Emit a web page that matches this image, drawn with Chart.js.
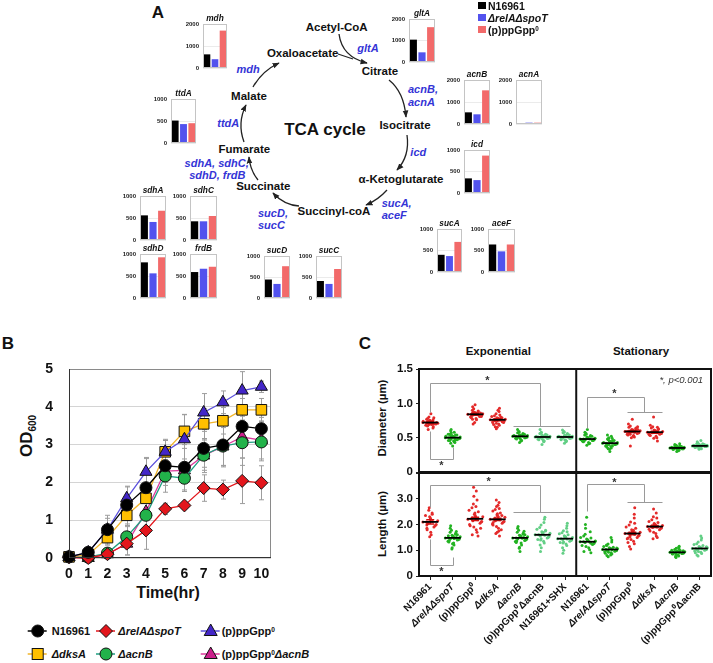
<!DOCTYPE html>
<html><head><meta charset="utf-8">
<script src="https://cdn.jsdelivr.net/npm/chart.js@4.4.1/dist/chart.umd.min.js"></script>
<style>
html,body{margin:0;padding:0;background:#fff}
#root{position:relative;width:713px;height:663px;overflow:hidden;font-family:Arial,"Liberation Sans",Helvetica,sans-serif}
.t{position:absolute;white-space:nowrap;transform:translate(-50%,-50%);font-weight:bold;color:#111;line-height:1}
.l{position:absolute;white-space:nowrap;transform:translate(0,-50%);font-weight:bold;color:#111;line-height:1}
.g{color:#3434d6;font-style:italic;font-size:11px}
.m{font-size:11.5px}
.mt{font-size:8.3px;font-style:italic}
sup{font-size:0.6em;vertical-align:0.45em;line-height:0}
canvas{position:absolute}
svg{position:absolute;left:0;top:0}
</style></head><body><div id="root">
<svg width="713" height="663">
<defs><marker id="ah" viewBox="0 0 10 10" refX="9" refY="5" markerWidth="5.5" markerHeight="5.5" orient="auto"><path d="M0,1 L10,5 L0,9 z" fill="#222"/></marker></defs>
<g fill="none" stroke="#222" stroke-width="1.3" marker-end="url(#ah)">
<path d="M339,34 Q342,57 367,63"/>
<path d="M389,80 Q404,92 406,117"/>
<path d="M407,135 Q410,156 397,170"/>
<path d="M387,190 Q378,200 366,205"/>
<path d="M299,206 Q284,205 273,193"/>
<path d="M258,180 Q250,170 249,157"/>
<path d="M244,142 Q237,123 246,105"/>
<path d="M253,87 Q262,71 279,63"/>
</g>
<path d="M338,54 L353,59" fill="none" stroke="#222" stroke-width="1.3"/>
</svg>

<div class="t" style="left:158px;top:12px;font-size:17px">A</div>
<div class="t m" style="left:336.7px;top:27.7px">Acetyl-CoA</div>
<div class="t g" style="left:368px;top:47.7px">gltA</div>
<div class="t m" style="left:302.7px;top:54.3px">Oxaloacetate</div>
<div class="t m" style="left:380px;top:71.7px">Citrate</div>
<div class="t g" style="left:248px;top:69.3px">mdh</div>
<div class="t m" style="left:249px;top:96.7px">Malate</div>
<div class="t" style="left:325px;top:129.3px;font-size:17px">TCA cycle</div>
<div class="t m" style="left:405px;top:125.7px">Isocitrate</div>
<div class="t g" style="left:228.3px;top:123.3px">ttdA</div>
<div class="l g" style="left:408px;top:89.3px">acnB,</div>
<div class="l g" style="left:408px;top:101.7px">acnA</div>
<div class="t g" style="left:418.3px;top:152.3px">icd</div>
<div class="t m" style="left:244.3px;top:150px">Fumarate</div>
<div class="t g" style="left:216.7px;top:163.3px">sdhA, sdhC,</div>
<div class="t g" style="left:217.3px;top:174.5px">sdhD, frdB</div>
<div class="t m" style="left:401px;top:180px">α-Ketoglutarate</div>
<div class="t m" style="left:263.3px;top:187.3px">Succinate</div>
<div class="l g" style="left:381.7px;top:203.3px">sucA,</div>
<div class="l g" style="left:381.7px;top:214.5px">aceF</div>
<div class="t m" style="left:334px;top:211.7px">Succinyl-coA</div>
<div class="l g" style="left:258px;top:213.3px">sucD,</div>
<div class="l g" style="left:258px;top:225px">sucC</div>

<div class="t" style="left:8px;top:343px;font-size:17px">B</div>
<div class="t" style="left:28px;top:436px;font-size:17px;transform:translate(-50%,-50%) rotate(-90deg)">OD<sub style="font-size:10px">600</sub></div>
<div class="t" style="left:168px;top:593px;font-size:16px">Time(hr)</div>

<div class="t" style="left:365px;top:343px;font-size:17px">C</div>
<div class="t" style="left:498.3px;top:351.7px;font-size:11.5px">Exponential</div>
<div class="t" style="left:641px;top:351.7px;font-size:11.5px">Stationary</div>
<div class="t" style="left:383px;top:417.5px;font-size:11.5px;transform:translate(-50%,-50%) rotate(-90deg)">Diameter (µm)</div>
<div class="t" style="left:383px;top:524px;font-size:11.5px;transform:translate(-50%,-50%) rotate(-90deg)">Length (µm)</div>
</div>
<script>
// ---------------- Panel A data ----------------
const strainsA = ['N16961', 'ΔrelAΔspoT', '(p)ppGpp⁰'];
const genes = ['mdh','gltA','ttdA','acnB','acnA','icd','sdhA','sdhC','sdhD','frdB','sucD','sucC','sucA','aceF'];
const exprN16961 = [620,1040,510,530,40,340,560,425,810,590,440,405,400,640];
const exprRelA   = [400,450,430,440,60,300,410,425,560,665,335,335,370,480];
const exprPpGpp0 = [1700,1620,450,1530,60,870,665,545,925,710,757,690,700,640];
const exprAxisMax = [2000,2000,1000,2000,2000,1000,1000,1000,1000,1000,1000,1000,1000,1000];

// ---------------- Panel B data ----------------
const hours = [0,1,2,3,4,5,6,7,8,9,10];
const odN16961    = [0.03,0.15,0.75,1.40,1.86,2.44,2.40,2.90,2.99,3.48,3.42];
const odRelA      = [0.02,0.00,0.10,0.38,0.73,1.30,1.39,1.85,1.81,2.04,1.99];
const odPpGpp0    = [0.03,0.15,0.75,1.58,2.28,2.81,3.14,3.85,4.12,4.43,4.53];
const odDksA      = [0.03,0.08,0.54,1.13,1.58,2.81,3.35,3.55,3.63,3.92,3.92];
const odAcnB      = [0.03,0.02,0.13,0.56,1.13,2.17,2.11,2.72,2.96,3.05,3.07];
const odPpGppAcnB = [0.02,0.00,0.10,0.38,1.22,2.30,2.32,2.71,2.95,3.20,3.12];
const errN16961    = [0.02,0.10,0.38,0.50,0.80,0.70,0.60,0.50,0.55,0.50,0.30];
const errRelA      = [0.02,0.05,0.10,0.30,0.50,0.15,0.10,0.35,0.25,0.60,0.45];
const errPpGpp0    = [0.02,0.10,0.30,0.30,0.35,0.30,0.65,0.50,0.30,0.50,0.15];
const errDksA      = [0.02,0.05,0.20,0.30,0.30,0.30,0.45,0.40,0.35,0.30,0.30];
const errAcnB      = [0.02,0.03,0.10,0.30,0.40,0.25,0.35,0.40,0.55,0.60,0.50];
const errPpGppAcnB = [0.02,0.03,0.10,0.30,0.45,0.30,0.30,0.45,0.50,0.55,0.50];
const labelsB = ['N16961','ΔrelAΔspoT','(p)ppGpp⁰','ΔdksA','ΔacnB','(p)ppGpp⁰ΔacnB'];

// ---------------- Panel C data ----------------
const catsC = ['N16961','ΔrelAΔspoT','(p)ppGpp⁰','ΔdksA','ΔacnB','(p)ppGpp⁰ΔacnB','N16961+SHX',
               'N16961','ΔrelAΔspoT','(p)ppGpp⁰','ΔdksA','ΔacnB','(p)ppGpp⁰ΔacnB'];
const catColor = ['r','g','r','r','g','lg','lg','g','g','r','r','g','lg'];
const diamMean = [0.72,0.50,0.84,0.76,0.52,0.51,0.51,0.48,0.42,0.59,0.58,0.35,0.38];
const diamSem  = [0.015,0.01,0.015,0.015,0.01,0.01,0.01,0.01,0.01,0.015,0.015,0.01,0.01];
const lenMean  = [2.10,1.48,2.22,2.20,1.48,1.60,1.45,1.33,1.03,1.65,1.92,0.92,1.07];
const lenSem   = [0.08,0.03,0.06,0.04,0.03,0.03,0.03,0.03,0.02,0.05,0.04,0.02,0.02];

const diamExpN16961 = [0.72,0.70,0.74,0.68,0.76,0.73,0.71,0.69,0.78,0.66,0.75,0.72,0.70,0.80,0.64,0.73,0.77,0.71,0.69,0.74,0.85,0.67,0.72,0.75,0.62,0.70,0.73,0.79];
const diamExpRelA = [0.50,0.48,0.52,0.46,0.54,0.49,0.51,0.45,0.55,0.47,0.53,0.50,0.44,0.57,0.49,0.51,0.42,0.58,0.48,0.52,0.50,0.46,0.54,0.38,0.60,0.47,0.53,0.49,0.51,0.62,0.43,0.50,0.55,0.48];
const diamExpPpGpp0 = [0.84,0.82,0.86,0.80,0.88,0.83,0.85,0.78,0.90,0.81,0.87,0.84,0.76,0.92,0.83,0.85,0.79,0.89,0.72,0.95,0.84,0.82,0.86,0.98,0.70,0.83,0.87,0.81,0.85,0.77];
const diamExpDksA = [0.76,0.74,0.78,0.72,0.80,0.75,0.77,0.70,0.82,0.73,0.79,0.76,0.68,0.85,0.74,0.78,0.66,0.88,0.71,0.81,0.76,0.63,0.93,0.75,0.69,0.83,0.77,0.72,0.90,0.74,0.79,0.65];
const diamExpAcnB = [0.52,0.50,0.54,0.49,0.55,0.51,0.53,0.47,0.57,0.50,0.54,0.52,0.45,0.59,0.51,0.53,0.48,0.56,0.43,0.62,0.52,0.50,0.55,0.49,0.53,0.46,0.58,0.51];
const diamExpPpGppAcnB = [0.51,0.49,0.53,0.48,0.54,0.50,0.52,0.46,0.56,0.49,0.53,0.51,0.44,0.58,0.50,0.52,0.47,0.55,0.40,0.62,0.51,0.49,0.54,0.48,0.52,0.45,0.57,0.50];
const diamExpShx = [0.51,0.49,0.53,0.47,0.55,0.50,0.52,0.46,0.57,0.49,0.53,0.51,0.44,0.59,0.50,0.52,0.48,0.56,0.42,0.61,0.51,0.49,0.54,0.47,0.52,0.45,0.58,0.50];
const diamStaN16961 = [0.48,0.46,0.50,0.45,0.52,0.47,0.49,0.43,0.54,0.46,0.51,0.48,0.41,0.56,0.47,0.50,0.44,0.53,0.39,0.58,0.48,0.45,0.52,0.62,0.47,0.42,0.55,0.49];
const diamStaRelA = [0.42,0.40,0.44,0.38,0.46,0.41,0.43,0.37,0.48,0.40,0.45,0.42,0.35,0.50,0.41,0.44,0.36,0.52,0.33,0.54,0.42,0.39,0.46,0.30,0.43,0.38,0.47,0.41,0.44,0.34,0.49,0.40];
const diamStaPpGpp0 = [0.59,0.57,0.61,0.55,0.63,0.58,0.60,0.53,0.65,0.56,0.62,0.59,0.51,0.67,0.57,0.61,0.54,0.64,0.50,0.70,0.58,0.56,0.62,0.77,0.38,0.60,0.55,0.66,0.52,0.59];
const diamStaDksA = [0.58,0.56,0.60,0.54,0.62,0.57,0.59,0.52,0.64,0.55,0.61,0.58,0.50,0.66,0.56,0.60,0.53,0.63,0.49,0.68,0.57,0.80,0.45,0.59,0.55,0.65,0.58];
const diamStaAcnB = [0.35,0.34,0.36,0.33,0.37,0.35,0.36,0.32,0.38,0.34,0.37,0.35,0.31,0.39,0.34,0.36,0.33,0.38,0.30,0.40,0.35,0.34,0.37,0.33,0.36,0.32,0.35,0.41];
const diamStaPpGppAcnB = [0.38,0.37,0.39,0.36,0.40,0.38,0.39,0.35,0.41,0.37,0.40,0.38,0.34,0.42,0.37,0.39,0.36,0.41,0.33,0.44,0.38,0.37,0.40,0.35,0.39,0.46,0.36,0.38];

const lenExpN16961 = [2.10,1.95,2.25,1.80,2.40,2.05,2.15,1.70,2.55,1.90,2.30,2.10,1.60,2.65,2.00,2.20,1.85,2.45,1.52,2.35,2.12,1.98];
const lenExpRelA = [1.48,1.42,1.55,1.35,1.62,1.45,1.52,1.28,1.70,1.40,1.58,1.48,1.20,1.78,1.44,1.54,1.32,1.66,1.10,1.85,1.47,1.38,1.60,1.25,1.95,1.50,1.05,1.73,1.46,1.56];
const lenExpPpGpp0 = [2.22,2.10,2.35,1.95,2.50,2.15,2.30,1.80,2.65,2.05,2.40,2.20,1.70,2.80,2.12,2.28,1.60,2.95,1.90,2.55,2.18,3.10,1.55,2.45,2.00,3.30,2.25,1.85,2.70,3.45];
const lenExpDksA = [2.20,2.10,2.32,1.98,2.45,2.15,2.28,1.85,2.58,2.05,2.38,2.20,1.75,2.70,2.12,2.30,1.65,2.85,1.92,2.52,2.18,2.95,1.55,2.42,2.02,2.62,2.25,1.80,2.75,2.08,2.35,1.70];
const lenExpAcnB = [1.48,1.40,1.56,1.34,1.62,1.45,1.52,1.28,1.70,1.38,1.58,1.48,1.20,1.78,1.43,1.54,1.30,1.66,1.12,1.85,1.47,1.36,1.60,0.95,1.92,1.50,1.08,1.74];
const lenExpPpGppAcnB = [1.60,1.50,1.70,1.42,1.78,1.55,1.66,1.35,1.88,1.48,1.72,1.60,1.28,1.98,1.53,1.68,1.20,2.08,1.45,1.82,1.58,1.10,2.20,1.62,0.95,1.75,1.40,2.28];
const lenExpShx = [1.45,1.38,1.52,1.30,1.60,1.42,1.50,1.24,1.68,1.35,1.56,1.45,1.18,1.76,1.40,1.52,1.10,1.85,1.32,1.64,1.44,1.00,1.95,1.48,0.88,1.72,1.28,2.05];
const lenStaN16961 = [1.33,1.25,1.40,1.18,1.48,1.30,1.36,1.10,1.55,1.22,1.44,1.33,1.02,1.62,1.28,1.38,0.95,1.72,1.15,1.50,1.32,1.85,0.90,1.42,2.00,1.27,2.28,1.35];
const lenStaRelA = [1.03,0.98,1.08,0.94,1.12,1.00,1.06,0.90,1.18,0.96,1.10,1.03,0.85,1.24,0.99,1.07,0.80,1.32,0.92,1.15,1.02,0.75,1.40,1.05,0.88,1.50,0.97,1.09,0.82,1.20];
const lenStaPpGpp0 = [1.65,1.55,1.75,1.45,1.85,1.60,1.70,1.35,1.98,1.50,1.80,1.65,1.25,2.10,1.58,1.72,1.15,2.25,1.42,1.90,1.62,1.05,2.40,1.68,1.30,2.05,1.52,2.65,1.78,1.48];
const lenStaDksA = [1.92,1.85,2.00,1.75,2.08,1.88,1.96,1.65,2.18,1.80,2.04,1.92,1.55,2.30,1.86,1.98,1.45,2.45,1.70,2.12,1.90,2.60,1.50,2.02,1.82,2.25,1.95];
const lenStaAcnB = [0.92,0.88,0.96,0.85,0.99,0.90,0.94,0.82,1.03,0.87,0.97,0.92,0.78,1.08,0.89,0.95,0.75,1.12,0.84,1.00,0.91,0.72,1.16,0.93,0.86,1.05,0.80,0.98];
const lenStaPpGppAcnB = [1.07,1.02,1.12,0.97,1.18,1.04,1.10,0.92,1.25,1.00,1.15,1.07,0.87,1.32,1.03,1.12,0.82,1.40,0.95,1.22,1.06,0.78,1.48,1.08,0.90,1.55,1.00,1.14];

const diamGroups = [diamExpN16961,diamExpRelA,diamExpPpGpp0,diamExpDksA,diamExpAcnB,diamExpPpGppAcnB,diamExpShx,
                    diamStaN16961,diamStaRelA,diamStaPpGpp0,diamStaDksA,diamStaAcnB,diamStaPpGppAcnB];
const lenGroups = [lenExpN16961,lenExpRelA,lenExpPpGpp0,lenExpDksA,lenExpAcnB,lenExpPpGppAcnB,lenExpShx,
                   lenStaN16961,lenStaRelA,lenStaPpGpp0,lenStaDksA,lenStaAcnB,lenStaPpGppAcnB];

// significance brackets (category index, value)
const diamBrackets = [[[0,0.87],[0,1.3],[4.9,1.3],[4.9,0.67]],[[3.67,0.67],[6.22,0.67]],
                      [[0,0.6],[0,0.195],[1,0.195],[1,0.37]],
                      [[7,0.64],[7,1.087],[9.5,1.087],[9.5,0.875]],[[8.75,0.875],[10.33,0.875]]];
const diamStars = [[2.55,1.36],[0.5,0.12],[8.2,1.16]];
const lenBrackets = [[[0,2.67],[0,3.54],[4.9,3.54],[4.9,2.5]],[[3.67,2.5],[6.22,2.5]],
                     [[0,1.45],[0,0.42],[1,0.42],[1,0.72]],
                     [[7,2.54],[7,3.59],[9.5,3.59],[9.5,2.86]],[[8.75,2.86],[10.33,2.86]]];
const lenStars = [[2.6,3.74],[0.5,0.24],[8.2,3.68]];

// ---------------- rendering ----------------
const FONT = 'Arial, "Liberation Sans", Helvetica, sans-serif';
Chart.defaults.font.family = FONT;
Chart.defaults.color = '#111';
Chart.defaults.animation = false;
Chart.defaults.responsive = false;
Chart.defaults.maintainAspectRatio = false;
Chart.defaults.events = [];
Chart.defaults.plugins.legend.display = false;
Chart.defaults.plugins.tooltip.enabled = false;

const root = document.getElementById('root');
function mkCanvas(l,t,w,h){const c=document.createElement('canvas');c.width=w;c.height=h;
  c.style.left=l+'px';c.style.top=t+'px';c.style.width=w+'px';c.style.height=h+'px';root.appendChild(c);return c;}
function addDiv(cls,html,x,y,style){const d=document.createElement('div');d.className=cls;d.innerHTML=html;
  d.style.left=x+'px';d.style.top=y+'px';if(style)d.style.cssText+=style;root.appendChild(d);return d;}
function fmt(s){return s.replace(/⁰/g,'<sup>0</sup>').replace(/(Δ[A-Za-z]+)/g,'<i>$1</i>');}
function boxPlug(col,lw){return {id:'boxp',afterDraw(c){const a=c.chartArea,x=c.ctx;x.save();x.strokeStyle=col;x.lineWidth=lw;
  x.strokeRect(Math.round(a.left)+0.5,Math.round(a.top)+0.5,Math.round(a.width)-1,Math.round(a.height)-1);x.restore();}};}
// shift a chart's canvas so that its plot area starts exactly at (L,T)
function pin(chart,L,T){const a=chart.chartArea;chart.canvas.style.left=(L-a.left)+'px';chart.canvas.style.top=(T-a.top)+'px';}

// Panel A mini bar charts
const miniBox = {mdh:[203,227,24,68],gltA:[409,435,19,62],ttdA:[171,196,99,143],acnB:[464,490,80,124],acnA:[516,542,80,124],
  icd:[464,490,150,193],sdhA:[140,166,196,240],sdhC:[190,217,196,240],sdhD:[140,166,254,298],frdB:[190,217,254,298],
  sucD:[264,290,256,298],sucC:[316,342,256,298],sucA:[437,462,229,272],aceF:[488,515,229,272]};
const barColors = ['#000000','#5252ee','#f26a6a'];
genes.forEach((g,i)=>{
  const [x0,x1,y0,y1]=miniBox[g];
  const padL=30,padT=6,padB=6,padR=2;
  const cv=mkCanvas(x0-padL,y0-padT,x1-x0+padL+padR,y1-y0+padT+padB);
  const ch=new Chart(cv,{type:'bar',
    data:{labels:strainsA,datasets:[{data:[exprN16961[i],exprRelA[i],exprPpGpp0[i]],backgroundColor:barColors,categoryPercentage:0.94,barPercentage:0.88,minBarLength:1}]},
    options:{layout:{padding:{left:0,top:padT,right:padR,bottom:padB}},
      scales:{x:{display:false},
        y:{min:0,max:exprAxisMax[i],ticks:{stepSize:exprAxisMax[i]/2,font:{size:6,weight:'bold'},color:'#222',padding:0,callback:v=>String(v)},
           grid:{color:'#ebebeb',drawTicks:true,tickLength:4,tickColor:'rgba(0,0,0,0)'},border:{display:false},afterFit(s){s.width=padL;}}}},
    plugins:[boxPlug('#c4c4c4',1)]});
  pin(ch,x0,y0);
  addDiv('t mt',g,(x0+x1)/2,y0-6);
});
// Panel A legend
strainsA.forEach((s,i)=>{
  const y=5.5+i*12;
  const sq=document.createElement('div');sq.style.cssText=`position:absolute;left:478px;top:${y-3.8}px;width:7.5px;height:7.5px;background:${barColors[i]}`;
  root.appendChild(sq);
  addDiv('l',fmt(s),488,y,'font-size:10.5px');
});

// Panel B
const seriesB = [
  {od:odN16961,err:errN16961,line:'#000000',fill:'#000000',shape:'circle',r:6},
  {od:odRelA,err:errRelA,line:'#e3161c',fill:'#e3161c',shape:'rectRot',r:6.5},
  {od:odPpGpp0,err:errPpGpp0,line:'#5a4fdc',fill:'#4326c8',shape:'triangle',r:7},
  {od:odDksA,err:errDksA,line:'#f2b52a',fill:'#ffc000',shape:'rect',r:7.5},
  {od:odAcnB,err:errAcnB,line:'#1f9f80',fill:'#22b24a',shape:'circle',r:6},
  {od:odPpGppAcnB,err:errPpGppAcnB,line:'#dc3a9c',fill:'#cc1f8c',shape:'triangle',r:7}
];
const errPlug = {id:'errbars',beforeDatasetsDraw(c){const X=c.scales.x,Y=c.scales.y,ctx=c.ctx;ctx.save();ctx.strokeStyle='#9d9d9d';ctx.lineWidth=1;
  c.data.datasets.forEach(ds=>{ds.data.forEach((p,i)=>{const e=ds.err[i];if(!e)return;const px=Math.round(X.getPixelForValue(p.x))+0.5;
    const t=Y.getPixelForValue(p.y+e),b=Y.getPixelForValue(Math.max(0,p.y-e));ctx.beginPath();ctx.moveTo(px,t);ctx.lineTo(px,b);
    ctx.moveTo(px-2.5,t);ctx.lineTo(px+2.5,t);ctx.moveTo(px-2.5,b);ctx.lineTo(px+2.5,b);ctx.stroke();});});ctx.restore();},
  afterDraw(c){const a=c.chartArea,ctx=c.ctx;ctx.save();ctx.strokeStyle='#8a8a8a';ctx.lineWidth=1;
    ctx.strokeRect(Math.round(a.left)+0.5,Math.round(a.top)+0.5,Math.round(a.width)-1,Math.round(a.height)-1);
    ctx.strokeStyle='#333';ctx.beginPath();ctx.moveTo(Math.round(a.left)+0.5,a.top);ctx.lineTo(Math.round(a.left)+0.5,Math.round(a.bottom)-0.5);
    ctx.lineTo(a.right,Math.round(a.bottom)-0.5);ctx.stroke();ctx.restore();}};
const cvB = mkCanvas(0,360,285,230);
const chB = new Chart(cvB,{type:'line',
  data:{datasets:seriesB.map((s,k)=>({label:labelsB[k],data:s.od.map((v,i)=>({x:hours[i],y:v})),err:s.err,
    borderColor:s.line,backgroundColor:s.fill,pointBackgroundColor:s.fill,pointBorderColor:'#111',pointBorderWidth:1,
    pointStyle:s.shape,pointRadius:s.r,borderWidth:1.3,tension:0,clip:false}))},
  options:{layout:{padding:{top:9,right:14,left:0,bottom:0},autoPadding:false},
    scales:{x:{type:'linear',min:0,max:10.5,afterBuildTicks(s){s.ticks=hours.map(h=>({value:h}));},
        ticks:{font:{size:14,weight:'bold'},padding:8,autoSkip:false,maxRotation:0},grid:{display:false,drawTicks:false},border:{display:false},afterFit(s){s.height=32;}},
      y:{min:0,max:5,ticks:{stepSize:1,font:{size:14,weight:'bold'},padding:0},
        grid:{color:'#d4d4d4',drawTicks:true,tickLength:16,tickColor:'rgba(0,0,0,0)'},border:{display:false},afterFit(s){s.width=69;}}}},
  plugins:[errPlug]});
pin(chB,69,369);
// Panel B legend
(function(){
  const ns='http://www.w3.org/2000/svg';const sv=document.createElementNS(ns,'svg');
  sv.setAttribute('width','300');sv.setAttribute('height','663');sv.style.cssText='position:absolute;left:0;top:0';
  const cxs=[37.7,106,210.7],txs=[51.7,118.3,221.7],cys=[631,654];
  seriesB.forEach((s,i)=>{
    const cx=cxs[i%3],cy=cys[Math.floor(i/3)];
    const ln=document.createElementNS(ns,'line');ln.setAttribute('x1',cx-10);ln.setAttribute('x2',cx+9);ln.setAttribute('y1',cy);ln.setAttribute('y2',cy);
    ln.setAttribute('stroke',s.line);ln.setAttribute('stroke-width','1.5');sv.appendChild(ln);
    let sh;const r=6;
    if(s.shape==='circle'){sh=document.createElementNS(ns,'circle');sh.setAttribute('cx',cx);sh.setAttribute('cy',cy);sh.setAttribute('r',r);}
    else if(s.shape==='rect'){sh=document.createElementNS(ns,'rect');sh.setAttribute('x',cx-5.5);sh.setAttribute('y',cy-5.5);sh.setAttribute('width',11);sh.setAttribute('height',11);}
    else if(s.shape==='rectRot'){sh=document.createElementNS(ns,'polygon');sh.setAttribute('points',`${cx},${cy-6.5} ${cx+6.5},${cy} ${cx},${cy+6.5} ${cx-6.5},${cy}`);}
    else {sh=document.createElementNS(ns,'polygon');sh.setAttribute('points',`${cx},${cy-7} ${cx+6.5},${cy+4.5} ${cx-6.5},${cy+4.5}`);}
    sh.setAttribute('fill',s.fill);sh.setAttribute('stroke','#111');sh.setAttribute('stroke-width','1');sv.appendChild(sh);
    addDiv('l',fmt(labelsB[i]),txs[i%3],cy,'font-size:11px');
  });
  root.appendChild(sv);
})();

// Panel C
const colC = {r:'#e42a2a',g:'#22b322',lg:'#63cf86'};
function swarm(vals,idx,mean){
  const lo=Math.min(...vals),hi=Math.max(...vals),half=Math.max(mean-lo,hi-mean)||1;
  return vals.map((v,i)=>{const f=((i*0.6180339+0.27)%1)-0.5;const w=0.38*Math.max(0.3,1-Math.abs(v-mean)/half);return {x:idx+f*2*w,y:v};});
}
function cPlug(isD){return {id:'cdeco',afterDatasetsDraw(c){
  const X=c.scales.x,Y=c.scales.y,ctx=c.ctx,a=c.chartArea;
  const means=isD?diamMean:lenMean,sems=isD?diamSem:lenSem;
  ctx.save();
  means.forEach((m,i)=>{const px=X.getPixelForValue(i),py=Y.getPixelForValue(m);
    if(catColor[i]==='r'){const t=Y.getPixelForValue(m+sems[i]),b=Y.getPixelForValue(m-sems[i]);ctx.strokeStyle='#d01010';ctx.lineWidth=1.5;
      ctx.beginPath();ctx.moveTo(px,t);ctx.lineTo(px,b);ctx.moveTo(px-4,t);ctx.lineTo(px+4,t);ctx.moveTo(px-4,b);ctx.lineTo(px+4,b);ctx.stroke();}
    ctx.strokeStyle='#000';ctx.lineWidth=1.8;ctx.beginPath();ctx.moveTo(X.getPixelForValue(i-0.36),py);ctx.lineTo(X.getPixelForValue(i+0.36),py);ctx.stroke();});
  ctx.strokeStyle='#9a9a9a';ctx.lineWidth=1;
  (isD?diamBrackets:lenBrackets).forEach(pl=>{ctx.beginPath();pl.forEach(([u,v],k)=>{const px=Math.round(X.getPixelForValue(u))+0.5,py=Math.round(Y.getPixelForValue(v))+0.5;
    if(k)ctx.lineTo(px,py);else ctx.moveTo(px,py);});ctx.stroke();});
  ctx.fillStyle='#333';ctx.font='bold 11px '+FONT;ctx.textAlign='center';ctx.textBaseline='middle';
  (isD?diamStars:lenStars).forEach(([u,v])=>ctx.fillText('*',X.getPixelForValue(u),Y.getPixelForValue(v)+2));
  if(isD){ctx.font='italic 9.5px '+FONT;ctx.textAlign='right';ctx.fillText('*, p<0.001',a.right-8,Y.getPixelForValue(1.34));}
  ctx.strokeStyle='#111';ctx.lineWidth=2;ctx.strokeRect(a.left,a.top,a.width,a.height);
  const dx=X.getPixelForValue(6.5);ctx.beginPath();ctx.moveTo(dx,a.top);ctx.lineTo(dx,a.bottom);ctx.stroke();
  ctx.restore();}};}
function makeC(isD){
  const groups=isD?diamGroups:lenGroups,means=isD?diamMean:lenMean;
  const cv=isD?mkCanvas(380,355,333,130):mkCanvas(380,460,333,203);
  const datasets=groups.map((arr,i)=>({data:swarm(arr,i,means[i]),pointRadius:1.5,pointBackgroundColor:colC[catColor[i]],pointBorderWidth:0,showLine:false}));
  const ch=new Chart(cv,{type:'scatter',data:{datasets},
    options:{layout:{padding:{top:12,right:2,left:0,bottom:isD?13:0},autoPadding:false},
      scales:{x:{type:'linear',min:-0.5,max:12.5,display:!isD,afterBuildTicks(s){s.ticks=catsC.map((_,i)=>({value:i}));},
          ticks:{autoSkip:false,minRotation:45,maxRotation:45,padding:1,color:'#111',
            font:(ctx)=>{const lab=(ctx.tick&&catsC[ctx.tick.value])||'';return {size:10,weight:'bold',style:lab.startsWith('Δ')?'italic':'normal'};},
            callback:(v)=>catsC[v]},
          grid:{drawOnChartArea:false,drawTicks:true,tickLength:4,color:'#222'},border:{display:false},afterFit(s){if(!isD)s.height=87;}},
        y:{min:0,max:isD?1.5:4,ticks:{stepSize:isD?0.5:1,font:{size:11.5,weight:'bold'},padding:3,callback:v=>v===0?'0':(v>3.5?'':v.toFixed(1))},
          grid:{drawOnChartArea:false,drawTicks:true,tickLength:3,color:'#222'},border:{display:false},afterFit(s){s.width=39;}}}},
    plugins:[cPlug(isD)]});
  const a=ch.chartArea;
  // match the plot heights
  const wantH=isD?103.4:103.3;
  if(Math.abs((a.bottom-a.top)-wantH)>0.5){ch.resize(cv.width,Math.round(cv.height+wantH-(a.bottom-a.top)));}
  pin(ch,419.3,isD?369.3:472.7);
}
makeC(true);
makeC(false);
</script>
</body></html>
